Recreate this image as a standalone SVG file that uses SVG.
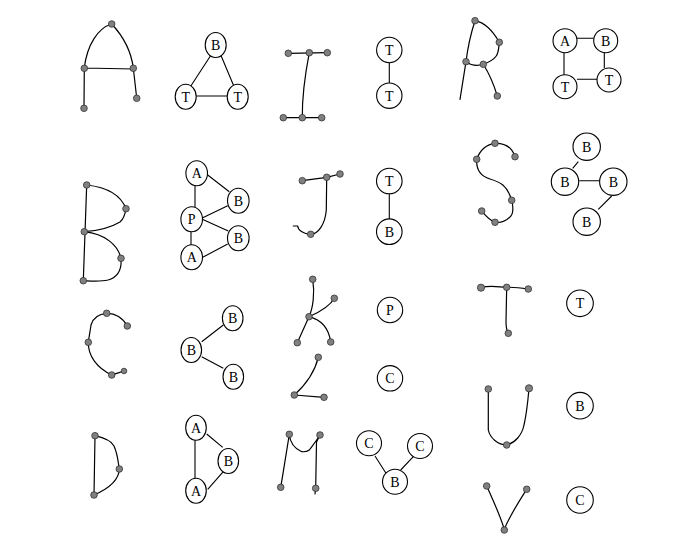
<svg xmlns="http://www.w3.org/2000/svg" width="686" height="539" viewBox="0 0 686 539">
<style>
.s{fill:none;stroke:#000;stroke-width:1.2;stroke-linecap:round;stroke-linejoin:round}
.d{fill:#808080;stroke:#333;stroke-width:0.8}
.e{stroke:#000;stroke-width:1.1;fill:none}
.n{fill:#fff;stroke:#000;stroke-width:1.1}
text{font-family:"Liberation Serif","Times New Roman",serif;font-size:14px;text-anchor:middle;fill:#000}
</style>
<rect width="686" height="539" fill="#fff"/>

<!-- Sketches -->
<g id="sketch-A">
<path class="s" d="M84,108 L84.3,68 C87,45 98,28 111.7,24 C122,35 131,50 133.3,68 L136.7,98 M84.3,68 L133.3,69"/>
<circle class="d" cx="111.7" cy="24" r="3.3"/><circle class="d" cx="84.3" cy="68.3" r="3.3"/><circle class="d" cx="133.3" cy="68.3" r="3.3"/><circle class="d" cx="84" cy="108.3" r="3.3"/><circle class="d" cx="136.7" cy="98.3" r="3.3"/>
</g>
<g id="sketch-I">
<path class="s" d="M288.3,53.3 L327.3,52.7 M309.3,52.7 C305,75 302,95 302.3,117.7 M283.3,117.7 L321.7,117.7"/>
<circle class="d" cx="288.3" cy="53.3" r="3.3"/><circle class="d" cx="309.3" cy="52.7" r="3.3"/><circle class="d" cx="327.3" cy="52.7" r="3.3"/><circle class="d" cx="283.3" cy="117.7" r="3.3"/><circle class="d" cx="302.3" cy="117.7" r="3.3"/><circle class="d" cx="321.7" cy="117.7" r="3.3"/>
</g>
<g id="sketch-R">
<path class="s" d="M460,99.3 L466,61.7 C468,45 472,30 475,20.7 C487,23 494,33 499.3,42.3 C498,52 500,58 483.3,64.3 C478,66 472,66 466,61.7 M483.3,64.3 C490,75 494,85 497.3,96"/>
<circle class="d" cx="475" cy="20.7" r="3.3"/><circle class="d" cx="499.3" cy="42.3" r="3.3"/><circle class="d" cx="466" cy="61.7" r="3.3"/><circle class="d" cx="483.3" cy="64.3" r="3.3"/><circle class="d" cx="497.3" cy="96" r="3.3"/>
</g>
<g id="sketch-B">
<path class="s" d="M86.7,185 L83.3,280.7 M86.7,185 C105,187 120,193 126,208.7 C125,215 124,219 120,222 C110,228 95,231 84.3,231.7 M84.3,231.7 C105,234 118,245 121,258.3 C122,270 118,277 108,280 C100,282 90,281 83.3,280.7"/>
<circle class="d" cx="86.7" cy="185" r="3.3"/><circle class="d" cx="126" cy="208.7" r="3.3"/><circle class="d" cx="84.3" cy="231.7" r="3.3"/><circle class="d" cx="121" cy="258.3" r="3.3"/><circle class="d" cx="83.3" cy="280.7" r="3.3"/>
</g>
<g id="sketch-J">
<path class="s" d="M302.3,180.7 L326.7,177.3 L340,174 M326.7,177.3 L326.3,210 C325,225 318,234 310.7,234.3 C303,234 298,230 297.7,226 L293.3,226"/>
<circle class="d" cx="302.3" cy="180.7" r="3.3"/><circle class="d" cx="326.7" cy="177.3" r="3.3"/><circle class="d" cx="340" cy="174" r="3.3"/><circle class="d" cx="310.7" cy="234.3" r="3.3"/>
</g>
<g id="sketch-S">
<path class="s" d="M515,156.7 C512,147 505,143 495,143.3 C487,144 480,150 476.7,159.3 C476,170 480,176 490,179 C500,182 507,185 511.7,200.3 C513,205 514,214 510,217 C505,222 500,223 495,222.3 C489,220 485,215 481.7,211"/>
<circle class="d" cx="495" cy="143.3" r="3.3"/><circle class="d" cx="476.7" cy="159.3" r="3.3"/><circle class="d" cx="515" cy="156.7" r="3.3"/><circle class="d" cx="511.7" cy="200.3" r="3.3"/><circle class="d" cx="481.7" cy="211" r="3.3"/><circle class="d" cx="495" cy="222.3" r="3.3"/>
</g>
<g id="sketch-C">
<path class="s" d="M127.3,326 C123,318 115,313 106.7,313.3 C98,314 93,318 91,325 C90,332 89,337 88.3,342.3 C88,356 97,368 111.7,375 C116,374 120,372 124,371"/>
<circle class="d" cx="106.7" cy="313.3" r="3.3"/><circle class="d" cx="127.3" cy="326" r="3.3"/><circle class="d" cx="88.3" cy="342.3" r="3.3"/><circle class="d" cx="111.7" cy="375" r="3.3"/><circle class="d" cx="124" cy="371" r="2.8"/>
</g>
<g id="sketch-K">
<path class="s" d="M312.7,279.3 C315,293 313,308 309,316.7 L297.3,342.7 M309,316.7 C320,312 330,306 334.3,298.3 M309,316.7 C322,320 329,330 330.7,342"/>
<circle class="d" cx="312.7" cy="279.3" r="3.3"/><circle class="d" cx="334.3" cy="298.3" r="3.3"/><circle class="d" cx="309" cy="316.7" r="3.3"/><circle class="d" cx="297.3" cy="342.7" r="3.3"/><circle class="d" cx="330.7" cy="342" r="3.3"/>
</g>
<g id="sketch-L">
<path class="s" d="M318.3,357.3 C314,375 302,388 294.3,395 L324,397.3"/>
<circle class="d" cx="318.3" cy="357.3" r="3.3"/><circle class="d" cx="294.3" cy="395" r="3.3"/><circle class="d" cx="324" cy="397.3" r="3.3"/>
</g>
<g id="sketch-T">
<path class="s" d="M481,287.7 C490,285 498,287 506.7,287.3 C515,287 522,288 528.3,289 M506.7,287.3 L506,322 C506,328 507,331 508.3,333.3"/>
<circle class="d" cx="481" cy="287.7" r="3.6"/><circle class="d" cx="506.7" cy="287.3" r="3.3"/><circle class="d" cx="528.3" cy="289" r="3.3"/><circle class="d" cx="508.3" cy="333.3" r="3.3"/>
</g>
<g id="sketch-U">
<path class="s" d="M488.3,389 L488.3,430 C490,438 498,445 506.7,445 C515,443 522,435 524,425 C527,412 528,400 529,388.3"/>
<circle class="d" cx="488.3" cy="389" r="3.3"/><circle class="d" cx="529" cy="388.3" r="3.6"/><circle class="d" cx="506.7" cy="445" r="3.3"/>
</g>
<g id="sketch-V">
<path class="s" d="M486.7,486 C493,500 500,515 504.3,529.3 C510,515 520,500 526.7,489.3"/>
<circle class="d" cx="486.7" cy="486" r="3.3"/><circle class="d" cx="526.7" cy="489.3" r="3.3"/><circle class="d" cx="504.3" cy="530" r="3.3"/>
</g>
<g id="sketch-D">
<path class="s" d="M95,435.7 L94,495 M95,435.7 C105,438 112,442 114,446 C118,455 118,462 119.3,469 C119,480 110,488 94,495"/>
<circle class="d" cx="95" cy="435.7" r="3.3"/><circle class="d" cx="119.3" cy="469" r="3.3"/><circle class="d" cx="94" cy="495" r="3.3"/>
</g>
<g id="sketch-M">
<path class="s" d="M280.7,487.3 L283.3,471.7 L289.3,434.3 C290,442 293,448 301.7,451.7 C305,452 308,451 309.3,450 C313,445 317,440 320,435 M320,435 L316.5,442 L315.7,488.3 L315,494"/>
<circle class="d" cx="289.3" cy="434.3" r="3.3"/><circle class="d" cx="320" cy="435" r="3.3"/><circle class="d" cx="280.7" cy="487.3" r="3.3"/><circle class="d" cx="315.7" cy="488.3" r="3.3"/>
</g>

<!-- Connectors -->
<g id="connectors">
<path class="e" d="M210.7,55.5 L190.5,86.5 M221,55.5 L234,86.5 M196,96 L227.5,96"/>
<path class="e" d="M389.3,62.5 L389.3,83.2"/>
<path class="e" d="M577,38.3 L593.7,38.3 M564,52.7 L564,74.7 M604.3,52.7 L604.3,68 M577,79.3 L597,79.3"/>
<path class="e" d="M207.7,175 L229.3,191.7 M195,185.5 L195,207 M201.7,218.3 L227.7,205.7 M201.7,219 L228.3,231 M191,231.5 L191,245 M202.7,257.3 L227.7,244"/>
<path class="e" d="M389.3,193.8 L389.3,219"/>
<path class="e" d="M578.3,161.7 L572.7,168.3 M579.3,180.7 L600,180.7 M611.7,196 L598.3,209.3"/>
<path class="e" d="M201.7,341.7 L223.3,325 M201.7,356.7 L223.3,368.3"/>
<path class="e" d="M195,439.3 L195,479 M206.7,434 L222.7,447.3 M207.7,489.3 L223.3,471.7"/>
<path class="e" d="M375,456 L386,473.3 M413.3,456.7 L400.7,470"/>
</g>

<!-- Graph nodes -->
<g id="g1-B"><ellipse class="n" cx="215.7" cy="45" rx="10.5" ry="12.5"/><text x="215.7" y="50">B</text></g>
<g id="g1-T1"><ellipse class="n" cx="185.7" cy="96.7" rx="10.5" ry="12.5"/><text x="185.7" y="101.7">T</text></g>
<g id="g1-T2"><ellipse class="n" cx="237.7" cy="96.7" rx="10.5" ry="12.5"/><text x="237.7" y="101.7">T</text></g>

<g id="g2-T1"><circle class="n" cx="389.3" cy="50" r="12.7"/><text x="389.3" y="55">T</text></g>
<g id="g2-T2"><circle class="n" cx="389.3" cy="95.7" r="12.7"/><text x="389.3" y="100.7">T</text></g>

<g id="g3-A"><circle class="n" cx="565" cy="40.7" r="12"/><text x="565" y="45.7">A</text></g>
<g id="g3-B"><circle class="n" cx="605.7" cy="40.7" r="12"/><text x="605.7" y="45.7">B</text></g>
<g id="g3-T1"><circle class="n" cx="565" cy="86.7" r="12"/><text x="565" y="91.7">T</text></g>
<g id="g3-T2"><circle class="n" cx="609" cy="80" r="12"/><text x="609" y="85">T</text></g>

<g id="g4-A1"><ellipse class="n" cx="196.7" cy="173.3" rx="10.8" ry="12.5"/><text x="196.7" y="178.3">A</text></g>
<g id="g4-B1"><ellipse class="n" cx="238.3" cy="200.7" rx="10.8" ry="12.5"/><text x="238.3" y="205.7">B</text></g>
<g id="g4-P"><ellipse class="n" cx="191.7" cy="219.3" rx="10.8" ry="12.5"/><text x="191.7" y="224.3">P</text></g>
<g id="g4-B2"><ellipse class="n" cx="238.3" cy="238.3" rx="10.8" ry="12.5"/><text x="238.3" y="243.3">B</text></g>
<g id="g4-A2"><ellipse class="n" cx="191.7" cy="257.3" rx="10.8" ry="12.5"/><text x="191.7" y="262.3">A</text></g>

<g id="g5-T"><circle class="n" cx="389.3" cy="181" r="12.8"/><text x="389.3" y="186">T</text></g>
<g id="g5-B"><circle class="n" cx="389.3" cy="231.7" r="12.8"/><text x="389.3" y="236.7">B</text></g>

<g id="g6-B1"><circle class="n" cx="586.7" cy="146.7" r="13.7"/><text x="586.7" y="151.7">B</text></g>
<g id="g6-B2"><circle class="n" cx="565" cy="181.7" r="13.7"/><text x="565" y="186.7">B</text></g>
<g id="g6-B3"><circle class="n" cx="613.3" cy="181.7" r="13.7"/><text x="613.3" y="186.7">B</text></g>
<g id="g6-B4"><circle class="n" cx="586.7" cy="221.7" r="13.7"/><text x="586.7" y="226.7">B</text></g>

<g id="g7-B1"><ellipse class="n" cx="232.7" cy="318.3" rx="10.3" ry="12.5"/><text x="232.7" y="323.3">B</text></g>
<g id="g7-B2"><ellipse class="n" cx="191.3" cy="350" rx="10.3" ry="12.5"/><text x="191.3" y="355">B</text></g>
<g id="g7-B3"><ellipse class="n" cx="233.3" cy="376.7" rx="10.3" ry="12.5"/><text x="233.3" y="381.7">B</text></g>

<g id="g8-P"><circle class="n" cx="390" cy="310" r="12.7"/><text x="390" y="315">P</text></g>
<g id="g9-C"><circle class="n" cx="390" cy="378.3" r="12.7"/><text x="390" y="383.3">C</text></g>
<g id="g10-T"><circle class="n" cx="580" cy="303.3" r="13.3"/><text x="580" y="308.3">T</text></g>
<g id="g11-B"><circle class="n" cx="580" cy="405.7" r="13.3"/><text x="580" y="410.7">B</text></g>
<g id="g12-C"><circle class="n" cx="580" cy="500" r="13.3"/><text x="580" y="505">C</text></g>

<g id="g13-A1"><ellipse class="n" cx="196" cy="427.7" rx="10.3" ry="12.5"/><text x="196" y="432.7">A</text></g>
<g id="g13-B"><ellipse class="n" cx="228.3" cy="461" rx="10.3" ry="12.5"/><text x="228.3" y="466">B</text></g>
<g id="g13-A2"><ellipse class="n" cx="196" cy="490.7" rx="10.3" ry="12.5"/><text x="196" y="495.7">A</text></g>

<g id="g14-C1"><circle class="n" cx="369" cy="443.3" r="12.5"/><text x="369" y="448.3">C</text></g>
<g id="g14-C2"><circle class="n" cx="420" cy="446" r="12.5"/><text x="420" y="451">C</text></g>
<g id="g14-B"><circle class="n" cx="395" cy="481.7" r="12.5"/><text x="395" y="486.7">B</text></g>
</svg>
